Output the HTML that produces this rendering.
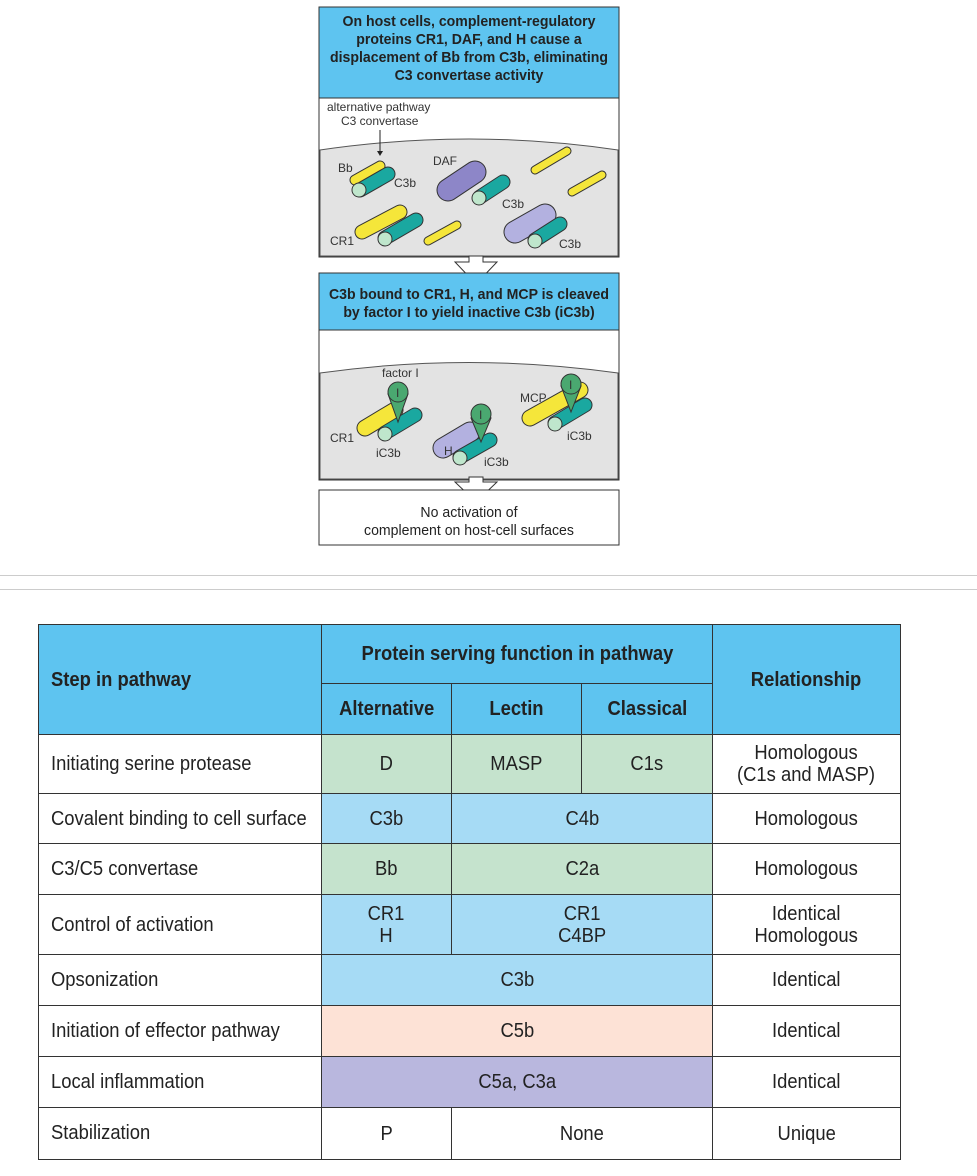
<!DOCTYPE html>
<html><head><meta charset="utf-8"><style>
body{margin:0;width:977px;height:1176px;background:#fff;position:relative;overflow:hidden;font-family:"Liberation Sans",sans-serif;color:#222}
.c{position:absolute;box-sizing:border-box;display:flex;align-items:center;justify-content:center;text-align:center;font-size:20px;line-height:22px;border:1px solid #333}
.c span{display:inline-block;transform:scaleX(.92);white-space:nowrap}
.l{justify-content:flex-start;padding-left:12px;text-align:left}
.l span{transform-origin:0 50%}
.h{background:#5ec4f0;font-weight:bold}
.g{background:#c5e3cd}.b{background:#a6dbf5}.p{background:#fde2d6}.v{background:#b9b7de}
</style></head><body>
<div style="position:absolute;left:0;top:575px;width:977px;height:1px;background:#ccc"></div>
<div style="position:absolute;left:0;top:589px;width:977px;height:1px;background:#ccc"></div>
<svg width="977" height="560" style="position:absolute;left:0;top:0" font-family="Liberation Sans, sans-serif">
<rect x="319" y="7" width="300" height="91" fill="#5ec4f0" stroke="#333"/>
<g font-weight="bold" font-size="15" text-anchor="middle" fill="#222" transform="translate(469,0) scale(0.94,1) translate(-469,0)">
<text x="469" y="26">On host cells, complement-regulatory</text>
<text x="469" y="44">proteins CR1, DAF, and H cause a</text>
<text x="469" y="62">displacement of Bb from C3b, eliminating</text>
<text x="469" y="80">C3 convertase activity</text></g>
<rect x="319" y="98" width="300" height="159" fill="#fff" stroke="#333"/>
<path d="M320 150 Q469 128 618 150 L618 256 L320 256Z" fill="#e3e3e3" stroke="#555"/>
<g font-size="12" fill="#333">
<text x="327" y="111">alternative pathway</text><text x="341" y="125">C3 convertase</text>
<text x="338" y="172">Bb</text><text x="394" y="187">C3b</text><text x="433" y="165">DAF</text><text x="502" y="208">C3b</text>
<text x="330" y="245">CR1</text><text x="559" y="248">C3b</text><text x="512" y="237">H</text></g>
<line x1="380" y1="130" x2="380" y2="153" stroke="#222"/><path d="M377 151h6l-3 5z" fill="#222"/>
<g stroke-linecap="round">
<line x1="355" y1="180" x2="380" y2="166" stroke="#333" stroke-width="11"/><line x1="355" y1="180" x2="380" y2="166" stroke="#f5e63a" stroke-width="9"/>
<line x1="360" y1="190" x2="388" y2="174" stroke="#333" stroke-width="15"/><line x1="360" y1="190" x2="388" y2="174" stroke="#1aa8a0" stroke-width="13"/>
<line x1="448" y1="190" x2="475" y2="172" stroke="#333" stroke-width="23"/><line x1="448" y1="190" x2="475" y2="172" stroke="#8d86c8" stroke-width="21"/>
<line x1="480" y1="197" x2="503" y2="182" stroke="#333" stroke-width="15"/><line x1="480" y1="197" x2="503" y2="182" stroke="#1aa8a0" stroke-width="13"/>
<line x1="535" y1="170" x2="567" y2="151" stroke="#333" stroke-width="9"/><line x1="535" y1="170" x2="567" y2="151" stroke="#f5e63a" stroke-width="7"/>
<line x1="572" y1="192" x2="602" y2="175" stroke="#333" stroke-width="9"/><line x1="572" y1="192" x2="602" y2="175" stroke="#f5e63a" stroke-width="7"/>
<line x1="428" y1="241" x2="457" y2="225" stroke="#333" stroke-width="9"/><line x1="428" y1="241" x2="457" y2="225" stroke="#f5e63a" stroke-width="7"/>
<line x1="362" y1="232" x2="400" y2="212" stroke="#333" stroke-width="15"/><line x1="362" y1="232" x2="400" y2="212" stroke="#f5e63a" stroke-width="13"/>
<line x1="385" y1="238" x2="416" y2="220" stroke="#333" stroke-width="15"/><line x1="385" y1="238" x2="416" y2="220" stroke="#1aa8a0" stroke-width="13"/>
<line x1="515" y1="232" x2="545" y2="215" stroke="#333" stroke-width="23"/><line x1="515" y1="232" x2="545" y2="215" stroke="#b3b1e0" stroke-width="21"/>
<line x1="535" y1="240" x2="560" y2="224" stroke="#333" stroke-width="15"/><line x1="535" y1="240" x2="560" y2="224" stroke="#1aa8a0" stroke-width="13"/>
</g>
<g stroke="#333" fill="#bfe6cc"><circle cx="359" cy="190" r="7"/><circle cx="479" cy="198" r="7"/><circle cx="385" cy="239" r="7"/><circle cx="535" cy="241" r="7"/></g>
<path d="M455 262h14v-6h14v6h14l-21 22z" fill="#fff" stroke="#333"/>
<rect x="319" y="273" width="300" height="57" fill="#5ec4f0" stroke="#333"/>
<g font-weight="bold" font-size="15" text-anchor="middle" fill="#222" transform="translate(469,0) scale(0.94,1) translate(-469,0)"><text x="469" y="299">C3b bound to CR1, H, and MCP is cleaved</text><text x="469" y="317">by factor I to yield inactive C3b (iC3b)</text></g>
<rect x="319" y="330" width="300" height="150" fill="#fff" stroke="#333"/>
<path d="M320 373 Q469 352 618 373 L618 479 L320 479Z" fill="#e3e3e3" stroke="#555"/>
<g stroke-linecap="round">
<line x1="365" y1="428" x2="395" y2="410" stroke="#333" stroke-width="17"/><line x1="365" y1="428" x2="395" y2="410" stroke="#f5e63a" stroke-width="15"/>
<line x1="385" y1="433" x2="415" y2="415" stroke="#333" stroke-width="15"/><line x1="385" y1="433" x2="415" y2="415" stroke="#1aa8a0" stroke-width="13"/>
<line x1="443" y1="448" x2="470" y2="432" stroke="#333" stroke-width="21"/><line x1="443" y1="448" x2="470" y2="432" stroke="#b3b1e0" stroke-width="19"/>
<line x1="460" y1="457" x2="490" y2="440" stroke="#333" stroke-width="15"/><line x1="460" y1="457" x2="490" y2="440" stroke="#1aa8a0" stroke-width="13"/>
<line x1="530" y1="418" x2="580" y2="390" stroke="#333" stroke-width="17"/><line x1="530" y1="418" x2="580" y2="390" stroke="#f5e63a" stroke-width="15"/>
<line x1="555" y1="423" x2="585" y2="405" stroke="#333" stroke-width="15"/><line x1="555" y1="423" x2="585" y2="405" stroke="#1aa8a0" stroke-width="13"/>
</g>
<g stroke="#333" fill="#bfe6cc"><circle cx="385" cy="434" r="7"/><circle cx="460" cy="458" r="7"/><circle cx="555" cy="424" r="7"/></g>
<g stroke="#333" fill="#4aa870">
<path d="M388 394 L398 422 L408 394Z"/><circle cx="398" cy="392" r="10"/>
<path d="M471 418 L481 442 L491 418Z"/><circle cx="481" cy="414" r="10"/>
<path d="M561 386 L571 412 L581 386Z"/><circle cx="571" cy="384" r="10"/></g>
<g font-size="12" fill="#333"><text x="382" y="377">factor I</text><text x="330" y="442">CR1</text><text x="376" y="457">iC3b</text><text x="444" y="455">H</text><text x="484" y="466">iC3b</text><text x="520" y="402">MCP</text><text x="567" y="440">iC3b</text>
<text x="396" y="397">I</text><text x="479" y="419">I</text><text x="569" y="389">I</text></g>
<path d="M455 482h14v-5h14v5h14l-21 20z" fill="#fff" stroke="#333"/>
<rect x="319" y="490" width="300" height="55" fill="#fff" stroke="#333"/>
<g font-size="15" text-anchor="middle" fill="#222" transform="translate(469,0) scale(0.94,1) translate(-469,0)"><text x="469" y="517">No activation of</text><text x="469" y="535">complement on host-cell surfaces</text></g>
</svg>

<div class="c h l" style="left:38px;top:624px;width:284px;height:111px"><span>Step in pathway</span></div>
<div class="c h" style="left:321px;top:624px;width:392px;height:60px"><span>Protein serving function in pathway</span></div>
<div class="c h" style="left:712px;top:624px;width:189px;height:111px"><span>Relationship</span></div>
<div class="c h" style="left:321px;top:683px;width:131px;height:52px"><span>Alternative</span></div>
<div class="c h" style="left:451px;top:683px;width:131px;height:52px"><span>Lectin</span></div>
<div class="c h" style="left:581px;top:683px;width:132px;height:52px"><span>Classical</span></div>

<div class="c l" style="left:38px;top:734px;width:284px;height:60px"><span>Initiating serine protease</span></div>
<div class="c g" style="left:321px;top:734px;width:131px;height:60px"><span>D</span></div>
<div class="c g" style="left:451px;top:734px;width:131px;height:60px"><span>MASP</span></div>
<div class="c g" style="left:581px;top:734px;width:132px;height:60px"><span>C1s</span></div>
<div class="c" style="left:712px;top:734px;width:189px;height:60px"><span>Homologous<br>(C1s and MASP)</span></div>

<div class="c l" style="left:38px;top:793px;width:284px;height:51px"><span>Covalent binding to cell surface</span></div>
<div class="c b" style="left:321px;top:793px;width:131px;height:51px"><span>C3b</span></div>
<div class="c b" style="left:451px;top:793px;width:262px;height:51px"><span>C4b</span></div>
<div class="c" style="left:712px;top:793px;width:189px;height:51px"><span>Homologous</span></div>

<div class="c l" style="left:38px;top:843px;width:284px;height:52px"><span>C3/C5 convertase</span></div>
<div class="c g" style="left:321px;top:843px;width:131px;height:52px"><span>Bb</span></div>
<div class="c g" style="left:451px;top:843px;width:262px;height:52px"><span>C2a</span></div>
<div class="c" style="left:712px;top:843px;width:189px;height:52px"><span>Homologous</span></div>

<div class="c l" style="left:38px;top:894px;width:284px;height:61px"><span>Control of activation</span></div>
<div class="c b" style="left:321px;top:894px;width:131px;height:61px"><span>CR1<br>H</span></div>
<div class="c b" style="left:451px;top:894px;width:262px;height:61px"><span>CR1<br>C4BP</span></div>
<div class="c" style="left:712px;top:894px;width:189px;height:61px"><span>Identical<br>Homologous</span></div>

<div class="c l" style="left:38px;top:954px;width:284px;height:52px"><span>Opsonization</span></div>
<div class="c b" style="left:321px;top:954px;width:392px;height:52px"><span>C3b</span></div>
<div class="c" style="left:712px;top:954px;width:189px;height:52px"><span>Identical</span></div>

<div class="c l" style="left:38px;top:1005px;width:284px;height:52px"><span>Initiation of effector pathway</span></div>
<div class="c p" style="left:321px;top:1005px;width:392px;height:52px"><span>C5b</span></div>
<div class="c" style="left:712px;top:1005px;width:189px;height:52px"><span>Identical</span></div>

<div class="c l" style="left:38px;top:1056px;width:284px;height:52px"><span>Local inflammation</span></div>
<div class="c v" style="left:321px;top:1056px;width:392px;height:52px"><span>C5a, C3a</span></div>
<div class="c" style="left:712px;top:1056px;width:189px;height:52px"><span>Identical</span></div>

<div class="c l" style="left:38px;top:1107px;width:284px;height:53px;align-items:flex-start;padding-top:14px"><span>Stabilization</span></div>
<div class="c" style="left:321px;top:1107px;width:131px;height:53px"><span>P</span></div>
<div class="c" style="left:451px;top:1107px;width:262px;height:53px"><span>None</span></div>
<div class="c" style="left:712px;top:1107px;width:189px;height:53px"><span>Unique</span></div>
</body></html>
